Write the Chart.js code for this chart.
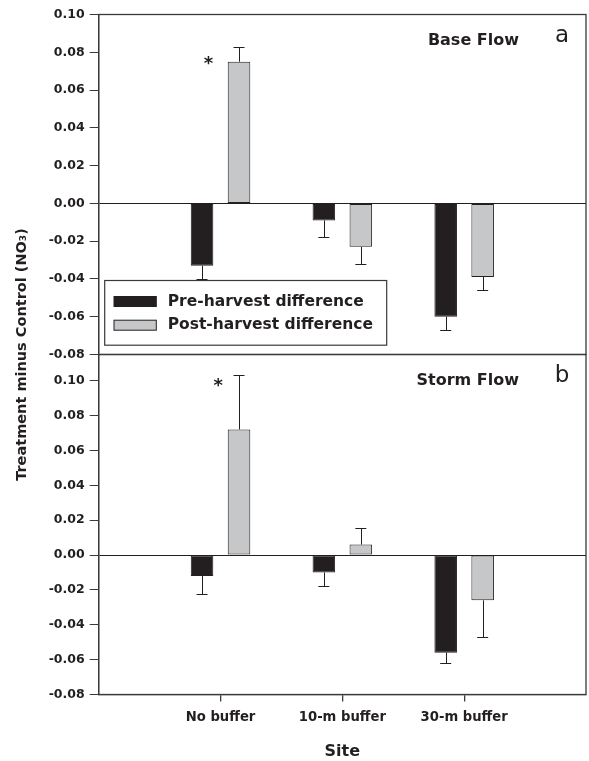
<!DOCTYPE html>
<html><head><meta charset="utf-8">
<script src="https://cdn.jsdelivr.net/npm/chart.js@4/dist/chart.umd.min.js"></script>
<style>html,body{margin:0;padding:0;background:#fff;overflow:hidden}#wrap{width:589px;height:761px;position:relative}canvas{display:block}</style>
</head><body><div id="wrap"><canvas id="c"></canvas></div>
<script>
// ---- data ----
const categories = ['No buffer', '10-m buffer', '30-m buffer'];
const seriesNames = ['Pre-harvest difference', 'Post-harvest difference'];
const baseFlowPre = [-0.033, -0.009, -0.060];
const baseFlowPreErr = [0.007, 0.009, 0.007];
const baseFlowPost = [0.075, -0.023, -0.039];
const baseFlowPostErr = [0.008, 0.009, 0.007];
const stormFlowPre = [-0.012, -0.010, -0.056];
const stormFlowPreErr = [0.0105, 0.008, 0.006];
const stormFlowPost = [0.072, 0.006, -0.026];
const stormFlowPostErr = [0.031, 0.0095, 0.021];
const yTicksBase = [-0.08, -0.06, -0.04, -0.02, 0.00, 0.02, 0.04, 0.06, 0.08, 0.10];
const yTicksStorm = [-0.08, -0.06, -0.04, -0.02, 0.00, 0.02, 0.04, 0.06, 0.08, 0.10];
const panelTitles = ['Base Flow', 'Storm Flow'];
const panelLetters = ['a', 'b'];
const sigMarkX = [0.9, 0.98];     // category position of the "*" marks (top, bottom)
const sigMarkY = [0.075, 0.098];  // value position of the "*" marks
const yAxisTitle = 'Treatment minus Control (NO\u2083)';
const xAxisTitle = 'Site';

// ---- styles ----
const DARK = '#231f20';
const GRAY = '#c6c7c9';
const AXIS = '#3a3a3a';
const TEXT = '#231f20';
const FONT = "'DejaVu Sans', sans-serif";
Chart.defaults.font.family = FONT;
Chart.defaults.color = TEXT;

const labels = ['', ...categories, ''];
const pad = a => [null, ...a, null];
const fmt = v => (Math.abs(v) < 1e-9 ? 0 : v).toFixed(2);

const panelScales = ['yA', 'yB'];

const extras = {
  id: 'extras',
  afterDatasetsDraw(chart) {
    const ctx = chart.ctx;
    const area = chart.chartArea;
    ctx.save();
    // error bars
    chart.data.datasets.forEach((ds, i) => {
      const meta = chart.getDatasetMeta(i);
      const ys = chart.scales[meta.yAxisID];
      ds.data.forEach((v, j) => {
        if (v === null) return;
        const el = meta.data[j];
        const e = ds.errors[j];
        const end = v + (v >= 0 ? e : -e);
        const y0 = ys.getPixelForValue(v);
        const y1 = ys.getPixelForValue(end);
        ctx.strokeStyle = DARK; ctx.lineWidth = 1;
        ctx.beginPath();
        ctx.moveTo(Math.round(el.x) + 0.5, y0);
        ctx.lineTo(Math.round(el.x) + 0.5, Math.round(y1) + 0.5);
        ctx.moveTo(el.x - 5.5, Math.round(y1) + 0.5);
        ctx.lineTo(el.x + 5.5, Math.round(y1) + 0.5);
        ctx.stroke();
      });
    });
    // panel frames
    ctx.strokeStyle = AXIS; ctx.lineWidth = 1.3;
    panelScales.forEach(id => {
      const s = chart.scales[id];
      ctx.strokeRect(area.left, s.top, area.right - area.left, s.bottom - s.top);
    });
    // significance marks, panel titles and letters
    const xs = chart.scales.x;
    panelScales.forEach((id, p) => {
      const s = chart.scales[id];
      ctx.fillStyle = TEXT;
      ctx.font = 'bold 18px ' + FONT;
      ctx.textAlign = 'center'; ctx.textBaseline = 'alphabetic';
      ctx.fillText('*', xs.getPixelForValue(sigMarkX[p]), s.getPixelForValue(sigMarkY[p]) + 7);
      ctx.font = 'bold 16px ' + FONT;
      ctx.textAlign = 'right';
      ctx.fillText(panelTitles[p], area.right - 67, s.top + 30);
      ctx.font = '23px ' + FONT;
      ctx.textAlign = 'center';
      ctx.fillText(panelLetters[p], area.right - 24, s.top + 27.5);
    });
    // legend
    const yA = chart.scales.yA;
    const W = 282, H = 64.7;
    const L = area.left + 6, T = yA.bottom - 9.3 - H;
    ctx.fillStyle = '#fff';
    ctx.fillRect(L, T, W, H);
    ctx.strokeStyle = AXIS; ctx.lineWidth = 1.2;
    ctx.strokeRect(L, T, W, H);
    const rows = [T + 21, T + 44.7];
    chart.data.datasets.slice(0, 2).forEach((ds, k) => {
      ctx.fillStyle = ds.backgroundColor;
      ctx.fillRect(L + 9.3, rows[k] - 5, 42.3, 10);
      ctx.strokeStyle = DARK; ctx.lineWidth = 1;
      ctx.strokeRect(L + 9.3, rows[k] - 5, 42.3, 10);
      ctx.fillStyle = TEXT;
      ctx.font = 'bold 15.5px ' + FONT;
      ctx.textAlign = 'left'; ctx.textBaseline = 'middle';
      ctx.fillText(ds.label, L + 63, rows[k]);
    });
    ctx.restore();
  }
};

function yScale(ticksArr, min, max, weight) {
  return {
    type: 'linear', position: 'left', stack: 'panels', stackWeight: 1, weight: weight,
    min: min, max: max,
    afterBuildTicks: s => { s.ticks = ticksArr.map(v => ({ value: v })); },
    afterFit: s => { s.width = 67.5; },
    grid: {
      drawOnChartArea: true, tickLength: 9, lineWidth: 1,
      color: c => (c.tick && Math.abs(c.tick.value) < 1e-9) ? DARK : 'rgba(0,0,0,0)',
      tickColor: AXIS
    },
    border: { color: AXIS, width: 1.3 },
    ticks: { font: { size: 12.5, weight: 'bold' }, padding: 5, color: TEXT, callback: v => fmt(v) }
  };
}

new Chart(document.getElementById('c'), {
  type: 'bar',
  data: {
    labels: labels,
    datasets: [
      { label: seriesNames[0], data: pad(baseFlowPre), errors: pad(baseFlowPreErr), yAxisID: 'yA', stack: 'pre', backgroundColor: DARK, borderColor: DARK },
      { label: seriesNames[1], data: pad(baseFlowPost), errors: pad(baseFlowPostErr), yAxisID: 'yA', stack: 'post', backgroundColor: GRAY, borderColor: DARK },
      { label: seriesNames[0], data: pad(stormFlowPre), errors: pad(stormFlowPreErr), yAxisID: 'yB', stack: 'pre', backgroundColor: DARK, borderColor: DARK },
      { label: seriesNames[1], data: pad(stormFlowPost), errors: pad(stormFlowPostErr), yAxisID: 'yB', stack: 'post', backgroundColor: GRAY, borderColor: DARK }
    ]
  },
  options: {
    responsive: true, maintainAspectRatio: false, animation: false,
    categoryPercentage: 0.607, barPercentage: 0.61,
    borderWidth: 1, borderSkipped: false,
    layout: { padding: { top: 14.5, right: 3, bottom: 0, left: 0 } },
    plugins: {
      legend: { display: false },
      tooltip: { enabled: false },
      title: {
        display: true, text: yAxisTitle, position: 'left', fullSize: false,
        font: { size: 14.5, weight: 'bold' }, padding: { top: 13.8, bottom: 0 }, color: TEXT
      }
    },
    scales: {
      x: {
        type: 'category', offset: false,
        grid: {
          offset: false, drawOnChartArea: false, tickLength: 7, lineWidth: 1.3,
          color: c => (c.index === 0 || c.index === labels.length - 1) ? 'rgba(0,0,0,0)' : AXIS
        },
        border: { color: AXIS, width: 1.3 },
        ticks: { font: { size: 13.2, weight: 'bold' }, padding: 8, maxRotation: 0, autoSkip: false, color: TEXT },
        title: { display: true, text: xAxisTitle, font: { size: 16, weight: 'bold' }, padding: { top: 15, bottom: 0 }, color: TEXT },
        afterFit: s => { s.height = 66.5; s.paddingLeft = 0; s.paddingRight = 0; }
      },
      yB: yScale(yTicksStorm, -0.08, 0.115, 1),
      yA: yScale(yTicksBase, -0.08, 0.10, 2)
    }
  },
  plugins: [extras]
});
</script>
</body></html>
